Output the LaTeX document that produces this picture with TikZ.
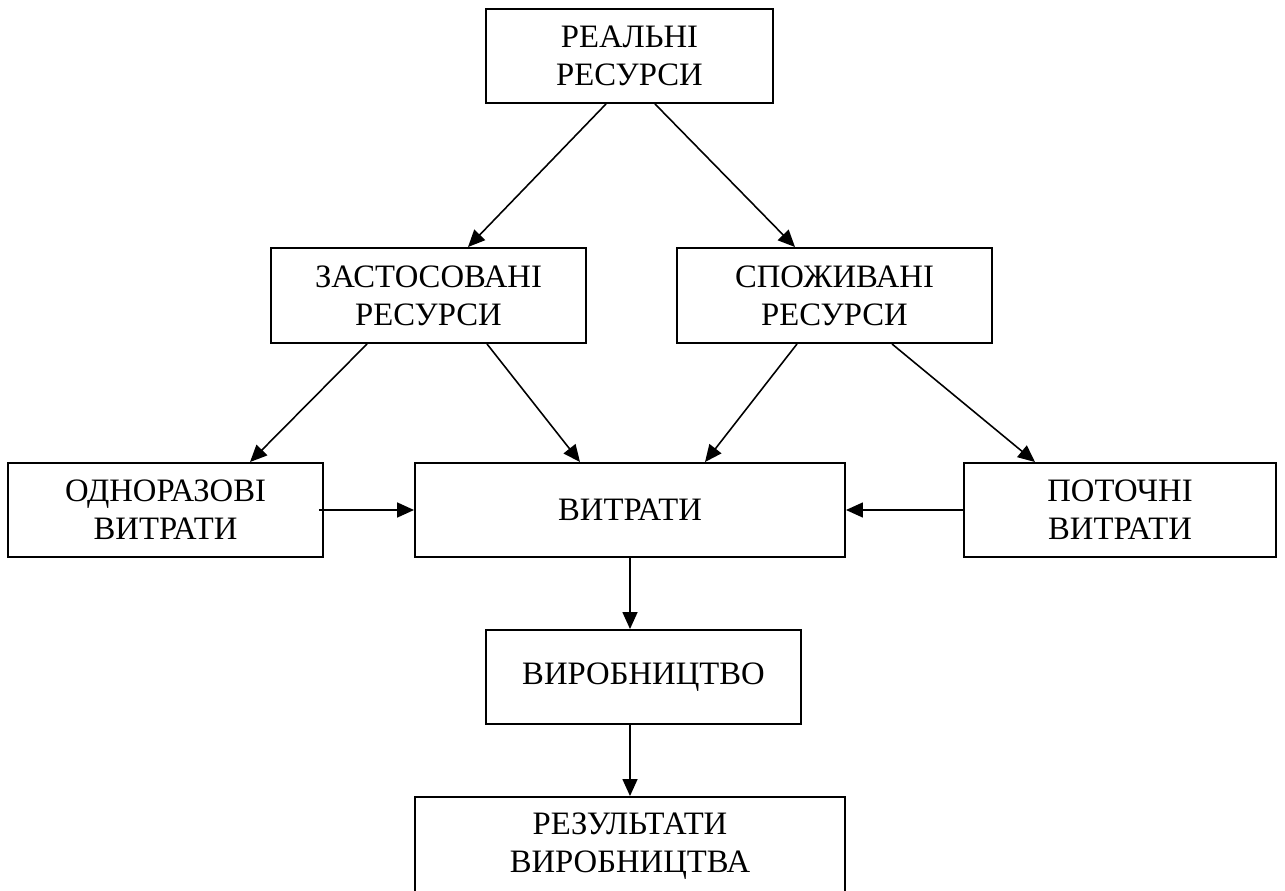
\documentclass[tikz,border=0pt]{standalone}
\usepackage{fontspec}
\setmainfont{Liberation Serif}
\usepackage{tikz}
\usetikzlibrary{arrows.meta, positioning, calc}

\tikzset{
  blockbox/.style={draw, line width=1.1pt, inner sep=0pt, align=center,
    font=\fontsize{18.6}{21.5}\selectfont},
  arr/.style={line width=0.9pt, -{Triangle[length=0.34cm, width=0.3cm]}}
}

\begin{document}
\begin{tikzpicture}
  \useasboundingbox (0,0) rectangle (25.7,-17.82);

  % Blocks
  \node[blockbox, minimum width=5.74cm, minimum height=1.88cm] (real) at (12.59,-1.12) {РЕАЛЬНІ\\РЕСУРСИ};
  \node[blockbox, minimum width=6.3cm, minimum height=1.9cm] (zast) at (8.57,-5.91) {ЗАСТОСОВАНІ\\РЕСУРСИ};
  \node[blockbox, minimum width=6.3cm, minimum height=1.9cm] (spozh) at (16.69,-5.91) {СПОЖИВАНІ\\РЕСУРСИ};
  \node[blockbox, minimum width=6.3cm, minimum height=1.88cm] (odno) at (3.31,-10.2) {ОДНОРАЗОВІ\\ВИТРАТИ};
  \node[blockbox, minimum width=8.6cm, minimum height=1.88cm] (vytr) at (12.6,-10.2) {ВИТРАТИ};
  \node[blockbox, minimum width=6.24cm, minimum height=1.88cm] (potoch) at (22.4,-10.2) {ПОТОЧНІ\\ВИТРАТИ};
  \node[blockbox, minimum width=6.3cm, minimum height=1.88cm] (vyrob) at (12.87,-13.54) {ВИРОБНИЦТВО};
  \node[blockbox, minimum width=8.6cm, minimum height=1.98cm] (rez) at (12.6,-16.93) {РЕЗУЛЬТАТИ\\ВИРОБНИЦТВА};

  % Arrows
  \draw[arr] ([xshift=-0.47cm]real.south) -- ([xshift=0.79cm]zast.north);
  \draw[arr] ([xshift=0.51cm]real.south) -- ([xshift=-0.79cm]spozh.north);
  \draw[arr] ([xshift=-1.23cm]zast.south) -- ([xshift=1.69cm]odno.north);
  \draw[arr] ([xshift=1.17cm]zast.south) -- ([xshift=-1.0cm]vytr.north);
  \draw[arr] ([xshift=-0.75cm]spozh.south) -- ([xshift=1.5cm]vytr.north);
  \draw[arr] ([xshift=1.15cm]spozh.south) -- ([xshift=-1.7cm]potoch.north);
  \draw[arr] ([xshift=-0.1cm]odno.east) -- (vytr.west);
  \draw[arr] (potoch.west) -- (vytr.east);
  \draw[arr] (vytr.south) -- (vytr.south |- vyrob.north);
  \draw[arr] (vytr.south |- vyrob.south) -- (rez.north);
\end{tikzpicture}
\end{document}
